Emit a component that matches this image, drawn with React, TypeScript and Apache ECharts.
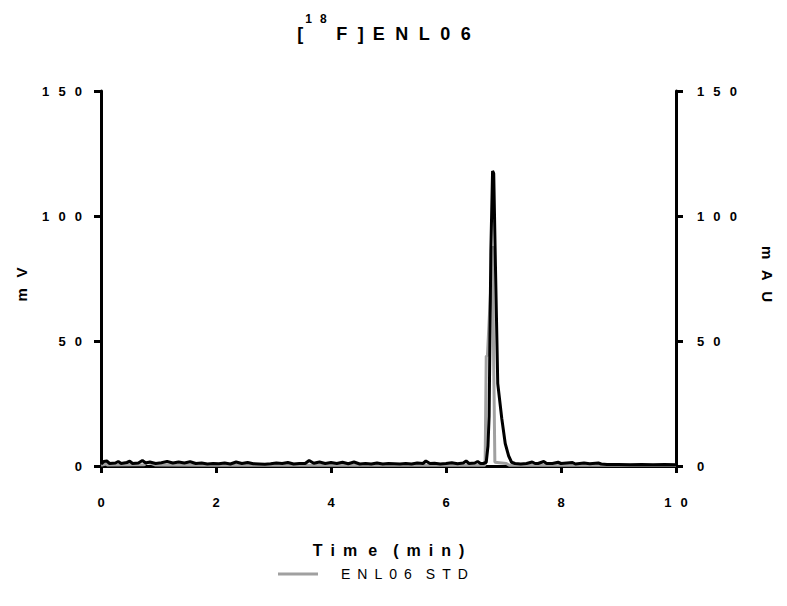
import React, { useEffect, useRef } from "react";
import * as echarts from "echarts";

// Radio trace (mV, left axis)
const radioTime = [
  0.0, 0.05, 0.1, 0.15, 0.25, 0.3, 0.35, 0.45, 0.5, 0.55, 0.65, 0.72, 0.78, 0.85, 0.95,
  1.05, 1.15, 1.25, 1.35, 1.45, 1.55, 1.65, 1.75, 1.85, 1.95, 2.05, 2.15, 2.25, 2.35,
  2.45, 2.55, 2.65, 2.75, 2.85, 2.95, 3.05, 3.15, 3.25, 3.35, 3.45, 3.55, 3.62, 3.7,
  3.8, 3.9, 4.0, 4.1, 4.2, 4.3, 4.4, 4.5, 4.6, 4.7, 4.8, 4.9, 5.0, 5.1, 5.2, 5.3, 5.4,
  5.5, 5.6, 5.65, 5.72, 5.8, 5.9, 6.0, 6.1, 6.2, 6.3, 6.35, 6.4, 6.5, 6.55, 6.6, 6.65,
  6.7, 6.73, 6.75, 6.78, 6.81, 6.83, 6.86, 6.9, 6.97, 7.03, 7.09, 7.14, 7.2, 7.3, 7.4,
  7.5, 7.55, 7.6, 7.7, 7.75, 7.85, 7.95, 8.0, 8.1, 8.2, 8.25, 8.4, 8.5, 8.65, 8.7, 8.8,
  9.0, 9.2, 9.4, 9.6, 9.8, 10.0,
];
const radioSignal = [
  0.8, 1.8, 2.0, 1.0, 1.2, 1.8, 1.0, 1.4, 1.9, 1.0, 1.2, 2.2, 1.2, 1.6, 1.0,
  1.3, 1.8, 1.2, 1.6, 1.2, 1.7, 1.0, 1.2, 0.8, 1.0, 0.9, 1.2, 0.8, 1.6,
  1.0, 1.4, 0.9, 0.8, 0.7, 0.9, 1.2, 1.0, 1.4, 0.8, 1.0, 1.0, 2.2, 1.1,
  1.6, 1.0, 1.4, 1.0, 1.5, 0.9, 1.6, 0.8, 1.0, 0.8, 1.2, 0.8, 1.0, 0.9, 0.8, 1.0, 0.8,
  1.2, 1.0, 2.0, 1.0, 1.1, 0.8, 1.0, 1.3, 0.9, 1.2, 2.0, 1.0, 1.2, 1.8, 1.0, 1.0,
  1.5, 8, 20, 86, 118, 117, 80, 33, 19, 9, 4, 1.5, 1.0, 0.8, 1.0,
  1.6, 1.0, 1.0, 1.8, 1.0, 1.0, 1.5, 1.0, 1.2, 1.4, 0.8, 1.2, 0.9, 1.2, 0.8, 0.6,
  0.6, 0.5, 0.6, 0.5, 0.6, 0.5,
];

// UV trace (mAU, right axis)
const uvTime = [
  0.0, 0.08, 0.12, 0.75, 0.8, 0.88, 0.95, 2.0, 4.0, 6.0, 6.66, 6.68, 6.7, 6.72, 6.78,
  6.81, 6.83, 6.85, 7.05, 7.1, 8.0, 10.0,
];
const uvSignal = [
  0.3, 0.8, 0.4, 0.5, 1.5, 1.0, 0.4, 0.3, 0.3, 0.3, 0.3, 0.5, 44, 44, 72,
  88, 40, 1.5, 1.0, 0.3, 0.3, 0.3,
];

const xTicks = { min: 0, max: 10, interval: 2 };
const yTicks = { min: 0, max: 150, interval: 50 };

const seriesNames = ["Radio", "ENL06 STD"];

// Prism-style wide letter spacing: en space + thin space between glyphs
const EN = "\u2002";
const THIN = "\u2009";
const HAIR = "\u200A";
const GAP = EN + THIN;
const spread = (s: string, gap = GAP) =>
  s
    .split(" ")
    .map((w) => w.split("").join(gap))
    .join(gap + gap);

const font = "Liberation Sans, Arial, sans-serif";

const titleMain = "F" + EN + HAIR + "]" + EN + spread("ENL06", EN + HAIR);
const xAxisName = ["T", "i", "m"].join(EN) + EN + THIN + "e" + EN + EN + ["(", "m"].join(EN) + EN + ["i", "n", ")"].join(EN);

export default function App() {
  const ref = useRef<HTMLDivElement>(null);

  useEffect(() => {
    if (!ref.current) return;
    const chart = echarts.init(ref.current, undefined, { renderer: "svg" });

    const axisLine = { show: true, lineStyle: { color: "#000", width: 3 } };
    const axisTick = { show: true, length: 7, lineStyle: { color: "#000", width: 3 } };
    const axisLabel = {
      color: "#000",
      fontFamily: font,
      fontWeight: "bold" as const,
      fontSize: 13,
      formatter: (v: number) => spread(String(v)),
    };
    const nameStyle = { fontFamily: font, fontWeight: "bold" as const, fontSize: 15, color: "#000" };
    const supStyle = {
      fontFamily: font,
      fontWeight: "bold",
      fontSize: 12,
      color: "#000",
      verticalAlign: "top",
      lineHeight: 30,
    };

    chart.setOption({
      animation: false,
      backgroundColor: "#fff",
      title: {
        text: "{b|[}{s1|1}{s2|8}{b|" + THIN + titleMain + "}",
        left: 379,
        textAlign: "center",
        top: 8,
        textStyle: {
          rich: {
            b: { fontFamily: font, fontWeight: "bold", fontSize: 18, color: "#000", verticalAlign: "bottom", lineHeight: 30 },
            s1: { ...supStyle, padding: [0, 2, 0, 2] },
            s2: { ...supStyle, padding: [0, 6, 0, 6] },
          },
        },
      },
      legend: {
        left: 273,
        top: 562,
        data: [seriesNames[1]],
        icon: "rect",
        itemWidth: 40,
        itemHeight: 3,
        textStyle: {
          fontFamily: font,
          fontSize: 14,
          color: "#000",
          padding: [0, 0, 0, 18],
        },
        formatter: (name: string) => spread(name, EN),
      },
      grid: { left: 101, right: 111, top: 91, bottom: 140, containLabel: false },
      xAxis: {
        type: "value",
        ...xTicks,
        name: xAxisName,
        nameLocation: "middle",
        nameGap: 76,
        nameTextStyle: { ...nameStyle, fontSize: 16 },
        axisLine,
        axisTick,
        axisLabel: { ...axisLabel, margin: 30 },
        splitLine: { show: false },
      },
      yAxis: [
        {
          type: "value",
          ...yTicks,
          position: "left",
          name: spread("mV"),
          nameLocation: "middle",
          nameGap: 72,
          nameTextStyle: { ...nameStyle, padding: [0, 12, 0, 0] },
          axisLine,
          axisTick,
          axisLabel: { ...axisLabel, margin: 19 },
          splitLine: { show: false },
        },
        {
          type: "value",
          ...yTicks,
          position: "right",
          name: spread("mAU"),
          nameLocation: "middle",
          nameRotate: -90,
          nameGap: 84,
          nameTextStyle: { ...nameStyle, padding: [0, 9, 0, 0] },
          axisLine,
          axisTick,
          axisLabel: { ...axisLabel, margin: 21 },
          splitLine: { show: false },
        },
      ],
      series: [
        {
          name: seriesNames[1],
          type: "line",
          yAxisIndex: 1,
          showSymbol: false,
          symbol: "none",
          lineStyle: { color: "#a0a0a0", width: 3 },
          itemStyle: { color: "#a0a0a0" },
          data: uvTime.map((t, i) => [t, uvSignal[i]]),
        },
        {
          name: seriesNames[0],
          type: "line",
          yAxisIndex: 0,
          showSymbol: false,
          symbol: "none",
          lineStyle: { color: "#000", width: 3 },
          itemStyle: { color: "#000" },
          data: radioTime.map((t, i) => [t, radioSignal[i]]),
        },
      ],
    });

    return () => chart.dispose();
  }, []);

  return (
    <div
      ref={ref}
      style={{ position: "fixed", left: 0, top: 0, width: 787, height: 606 }}
    />
  );
}
